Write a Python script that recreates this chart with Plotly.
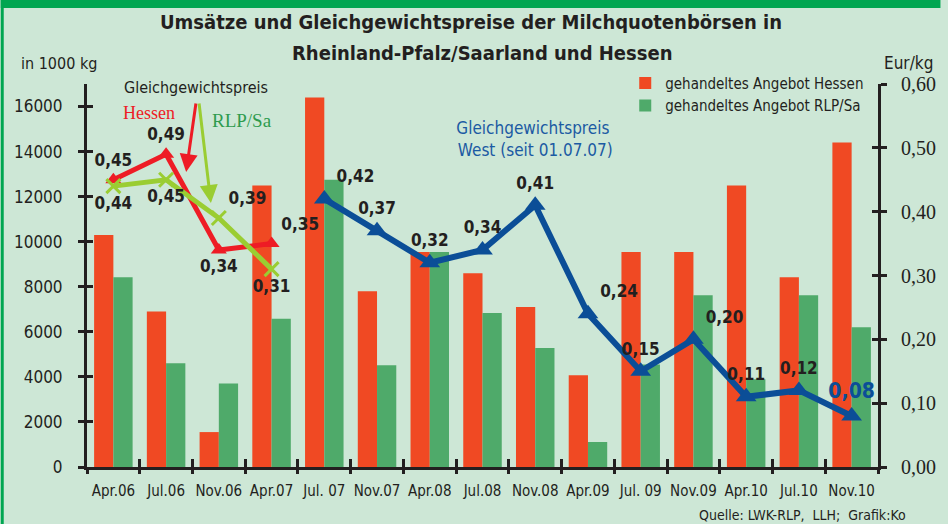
import plotly.graph_objects as go

categories = ["Apr.06", "Jul.06", "Nov.06", "Apr.07", "Jul. 07", "Nov.07", "Apr.08",
              "Jul.08", "Nov.08", "Apr.09", "Jul. 09", "Nov.09", "Apr.10", "Jul.10", "Nov.10"]
angebot_hessen = [10300, 6900, 1550, 12500, 16400, 7800, 9540, 8600, 7100, 4070, 9540, 9540, 12500, 8420, 14400]
angebot_rlp = [8420, 4600, 3710, 6580, 12750, 4520, 9540, 6840, 5280, 1110, 4550, 7620, 3900, 7620, 6200]

preis_hessen_cats = categories[0:4]
preis_hessen = [0.45, 0.49, 0.34, 0.35]
preis_rlp_cats = categories[0:4]
preis_rlp = [0.44, 0.45, 0.39, 0.31]
preis_west_cats = categories[4:]
preis_west = [0.42, 0.37, 0.32, 0.34, 0.41, 0.24, 0.15, 0.20, 0.11, 0.12, 0.08]

left_ticks = [0, 2000, 4000, 6000, 8000, 10000, 12000, 14000, 16000]
left_ticklabels = [str(v) for v in left_ticks]
right_ticks = [0.0, 0.1, 0.2, 0.3, 0.4, 0.5, 0.6]
right_ticklabels = ["0,00", "0,10", "0,20", "0,30", "0,40", "0,50", "0,60"]

def lbl(vals, bold=True):
    return [("<b>%s</b>" if bold else "%s") % f"{v:.2f}".replace(".", ",") for v in vals]

NARROW = "Liberation Sans Narrow, Arial Narrow, DejaVu Sans Condensed, sans-serif"
SERIF = "Liberation Serif, Times New Roman, DejaVu Serif, serif"
RED = "#f04923"
GREEN = "#4faa6a"
BG = "#cde7d6"
BORDER = "#00a651"
INK = "#231f20"
BLUE = "#0b4e97"

fig = go.Figure()
fig.add_trace(go.Bar(x=categories, y=angebot_hessen, name="gehandeltes Angebot Hessen",
                     marker=dict(color=RED, line=dict(width=0)), yaxis="y"))
fig.add_trace(go.Bar(x=categories, y=angebot_rlp, name="gehandeltes Angebot RLP/Sa",
                     marker=dict(color=GREEN, line=dict(width=0)), yaxis="y"))

lblfont = dict(family=NARROW, size=17, color=INK)

fig.add_trace(go.Scatter(x=preis_hessen_cats, y=preis_hessen, yaxis="y2", mode="lines+markers+text",
                         line=dict(color="#ee1c25", width=5),
                         marker=dict(symbol="triangle-up", size=14, color="#ee1c25"),
                         text=lbl(preis_hessen),
                         textposition=["top center", "top center", "bottom center", "top right"],
                         textfont=lblfont, showlegend=False, cliponaxis=False))
fig.add_trace(go.Scatter(x=preis_rlp_cats, y=preis_rlp, yaxis="y2", mode="lines+markers+text",
                         line=dict(color="#9acd32", width=5),
                         marker=dict(symbol="x-thin", size=14, line=dict(color="#9acd32", width=3)),
                         text=lbl(preis_rlp),
                         textposition=["bottom center", "bottom center", "top right", "bottom center"],
                         textfont=lblfont, showlegend=False, cliponaxis=False))
west_colors = [INK] * (len(preis_west) - 1) + [BLUE]
west_sizes = [17] * (len(preis_west) - 1) + [21]
fig.add_trace(go.Scatter(x=preis_west_cats, y=preis_west, yaxis="y2", mode="lines+markers+text",
                         line=dict(color=BLUE, width=6),
                         marker=dict(symbol="triangle-up", size=18, color=BLUE),
                         text=lbl(preis_west),
                         textposition=["top right", "top center", "top center", "top center", "top center",
                                       "top right", "top center", "top right", "top center", "top center",
                                       "top center"],
                         textfont=dict(family=NARROW, size=west_sizes, color=west_colors),
                         showlegend=False, cliponaxis=False))
# invisible helper traces for crossing tick marks
fig.add_trace(go.Scatter(x=[categories[0]], y=[0], yaxis="y3", xaxis="x2", mode="markers",
                         marker=dict(opacity=0), showlegend=False, hoverinfo="skip"))
fig.add_trace(go.Scatter(x=[categories[0]], y=[0], yaxis="y4", mode="markers",
                         marker=dict(opacity=0), showlegend=False, hoverinfo="skip"))

axis_common = dict(showgrid=False, zeroline=False, showline=True, linecolor=INK, linewidth=3,
                   tickcolor=INK, tickwidth=3)

fig.update_layout(
    width=948, height=524,
    margin=dict(l=87, r=63, t=84, b=57),
    paper_bgcolor=BG, plot_bgcolor=BG,
    barmode="group", bargap=0.27, bargroupgap=0,
    xaxis=dict(**axis_common, type="category", categoryorder="array", categoryarray=categories,
               ticks="outside", ticklen=4, tickson="boundaries", tickangle=0, ticklabelstandoff=8,
               tickfont=dict(family=NARROW, size=15, color=INK), range=[-0.5, 14.5]),
    xaxis2=dict(**axis_common, type="category", categoryorder="array", categoryarray=categories,
                overlaying="x", side="bottom", ticks="inside", ticklen=8, tickson="boundaries",
                showticklabels=False, range=[-0.5, 14.5]),
    yaxis=dict(**axis_common, range=[0, 17000], tickvals=left_ticks, ticktext=left_ticklabels,
               ticks="outside", ticklen=6,
               tickfont=dict(family=NARROW, size=17, color=INK), ticklabelstandoff=12),
    yaxis3=dict(**axis_common, range=[0, 17000], tickvals=left_ticks, ticks="inside", ticklen=6,
                overlaying="y", side="left", showticklabels=False),
    yaxis2=dict(**axis_common, range=[0, 0.6], tickvals=right_ticks, ticktext=right_ticklabels,
                overlaying="y", side="right", ticks="outside", ticklen=6,
                tickfont=dict(family=SERIF, size=20, color=INK), ticklabelstandoff=10),
    yaxis4=dict(**axis_common, range=[0, 0.6], tickvals=right_ticks, ticks="inside", ticklen=6,
                overlaying="y", side="right", showticklabels=False),
    legend=dict(x=(630 - 87) / 798, y=1.045, xanchor="left", yanchor="top", bgcolor="rgba(0,0,0,0)",
                font=dict(family=NARROW, size=15, color=INK), tracegroupgap=0, itemwidth=30),
    showlegend=True,
)

px_x = lambda p: (p - 87) / 798
px_y = lambda p: (467 - p) / 383

annots = [
    dict(text="<b>Umsätze und Gleichgewichtspreise der Milchquotenbörsen in</b>", x=px_x(474), y=px_y(22),
         font=dict(family=NARROW, size=20, color=INK)),
    dict(text="<b>Rheinland-Pfalz/Saarland und Hessen</b>", x=px_x(486), y=px_y(53),
         font=dict(family=NARROW, size=20, color=INK)),
    dict(text="in 1000 kg", x=px_x(59), y=px_y(63), font=dict(family=NARROW, size=16, color=INK)),
    dict(text="Eur/kg", x=px_x(916), y=px_y(63), font=dict(family=NARROW, size=17, color=INK)),
    dict(text="Quelle: LWK-RLP,  LLH;  Grafik:Ko", x=px_x(915), y=px_y(515), xanchor="right",
         font=dict(family=NARROW, size=14, color=INK)),
    dict(text="Gleichgewichtspreis", x=px_x(197), y=px_y(87), font=dict(family=NARROW, size=16, color=INK)),
    dict(text="Hessen", x=px_x(150), y=px_y(113), font=dict(family=SERIF, size=18, color="#ee1c25")),
    dict(text="RLP/Sa", x=px_x(243), y=px_y(120), font=dict(family=SERIF, size=19, color="#2e9b4e")),
    dict(text="Gleichgewichtspreis<br> West (seit 01.07.07)", x=px_x(537), y=px_y(139),
         font=dict(family=NARROW, size=17, color="#1b5aa3")),
]
for a in annots:
    a.setdefault("xanchor", "center")
    fig.add_annotation(xref="paper", yref="paper", showarrow=False, yanchor="middle", **a)

fig.add_annotation(xref="paper", yref="paper", x=px_x(187), y=px_y(172), ax=10, ay=-70,
                   showarrow=True, arrowhead=2, arrowsize=1.2, arrowwidth=3, arrowcolor="#ee1c25", text="")
fig.add_annotation(xref="paper", yref="paper", x=px_x(212), y=px_y(203), ax=-12, ay=-101,
                   showarrow=True, arrowhead=2, arrowsize=1.2, arrowwidth=3, arrowcolor="#9acd32", text="")

# green frame
fig.add_shape(type="rect", xref="paper", yref="paper", x0=px_x(0), x1=px_x(948), y0=px_y(0), y1=px_y(8),
              fillcolor=BORDER, line=dict(width=0), layer="above")
fig.add_shape(type="rect", xref="paper", yref="paper", x0=px_x(0), x1=px_x(3), y0=px_y(0), y1=px_y(524),
              fillcolor=BORDER, line=dict(width=0), layer="above")

fig.write_html("out.html")
